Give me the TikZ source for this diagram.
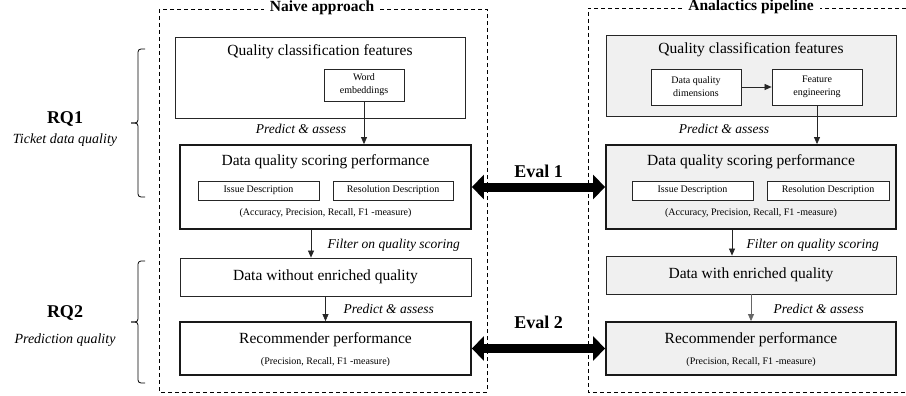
\documentclass[tikz,border=0pt]{standalone}
\usepackage{fontspec}
\setmainfont{Liberation Serif}
\usetikzlibrary{arrows.meta}

\begin{document}
\begin{tikzpicture}[x=1pt,y=-1pt,
  box/.style={draw=black!85, line width=0.8pt, inner sep=0pt},
  thickbox/.style={draw=black!90, line width=1.8pt, inner sep=0pt},
  shaded/.style={fill=black!6},
  small/.style={font=\fontsize{10}{13}\selectfont, align=center},
  big/.style={font=\fontsize{15.5}{18}\selectfont},
  note/.style={font=\fontsize{13.5}{16}\selectfont\itshape},
  rq/.style={font=\fontsize{18}{20}\selectfont\bfseries},
  bracket/.style={line width=0.8pt, rounded corners=3pt},
  flow/.style={-{Triangle[length=7pt,width=6pt]}, line width=0.7pt, black!85},
  evalarrow/.style={{Triangle[length=12pt,width=24pt]}-{Triangle[length=12pt,width=24pt]}, line width=9pt}]

\useasboundingbox (0,0) rectangle (906,396);

% containers
\draw[dashed, dash pattern=on 4pt off 3pt, line width=0.6pt] (159,9) rectangle (487,392);
\node[font=\fontsize{15.5}{18}\selectfont\bfseries, fill=white, inner sep=6pt] (naive) at (322,8) {Naive approach};
\draw[dashed, dash pattern=on 4pt off 3pt, line width=0.6pt] (906,8) -- (588,8) -- (588,392) -- (906,392);
\node[font=\fontsize{15.5}{18}\selectfont\bfseries, fill=white, inner sep=6pt] (pipe) at (751,7) {Analactics pipeline};

% research questions
\node[rq] (rq1) at (65,119) {RQ1};
\node[note, font=\fontsize{14}{16}\selectfont\itshape] (rq1t) at (65,140) {Ticket data quality};
\node[rq] (rq2) at (65,313) {RQ2};
\node[note, font=\fontsize{14}{16}\selectfont\itshape] (rq2t) at (65,340) {Prediction quality};
\draw[bracket] (145,49) -- (138,49) -- (138,123) -- (131,123);
\draw[bracket] (131,123) -- (138,123) -- (138,197) -- (145,197);
\draw[bracket] (145,261) -- (138,261) -- (138,322) -- (131,322);
\draw[bracket] (131,322) -- (138,322) -- (138,383) -- (145,383);

% naive approach
\node[box, minimum width=290pt, minimum height=81pt] (qcfL) at (320,77.5) {};
\node[big] (qcfLt) at (320,52) {Quality classification features};
\node[box, small, minimum width=80pt, minimum height=32pt] (weL) at (364,85) {Word\\embeddings};
\node[thickbox, minimum width=291pt, minimum height=84pt] (dqsL) at (325.5,187) {};
\node[big] (dqsLt) at (325.5,162) {Data quality scoring performance};
\node[box, small, minimum width=121pt, minimum height=19pt] (idL) at (258.5,190.5) {Issue Description};
\node[box, small, minimum width=120pt, minimum height=19pt] (rdL) at (393,190.5) {Resolution Description};
\node[small] (accL) at (325.5,213) {(Accuracy, Precision, Recall, F1 -measure)};
\node[box, big, minimum width=291pt, minimum height=38pt] (dweL) at (325.5,277) {Data without enriched quality};
\node[thickbox, minimum width=291pt, minimum height=53pt] (recL) at (325.5,348.5) {};
\node[big] (recLt) at (325.5,340) {Recommender performance};
\node[small] (recLs) at (325.5,362) {(Precision, Recall, F1 -measure)};

% analytics pipeline
\node[box, shaded, minimum width=290pt, minimum height=81pt] (qcfR) at (751,75.5) {};
\node[big] (qcfRt) at (751,50) {Quality classification features};
\node[box, fill=white, small, minimum width=90pt, minimum height=36pt] (dqdR) at (696,87) {Data quality\\dimensions};
\node[box, fill=white, small, minimum width=90pt, minimum height=36pt] (feR) at (817,87) {Feature\\engineering};
\node[thickbox, shaded, minimum width=290pt, minimum height=84pt] (dqsR) at (751,187) {};
\node[big] (dqsRt) at (751,162) {Data quality scoring performance};
\node[box, fill=white, small, minimum width=121pt, minimum height=19pt] (idR) at (692.5,190.5) {Issue Description};
\node[box, fill=white, small, minimum width=122pt, minimum height=19pt] (rdR) at (828,190.5) {Resolution Description};
\node[small] (accR) at (751,213) {(Accuracy, Precision, Recall, F1 -measure)};
\node[box, shaded, big, minimum width=290pt, minimum height=38pt] (dweR) at (751,275) {Data with enriched quality};
\node[thickbox, shaded, minimum width=290pt, minimum height=53pt] (recR) at (751,348.5) {};
\node[big] (recRt) at (751,340) {Recommender performance};
\node[small] (recRs) at (751,362) {(Precision, Recall, F1 -measure)};

% flows
\draw[flow] (weL.south) -- (weL.south |- dqsL.north);
\draw[flow] ([xshift=-14.5pt]dqsL.south) -- ([xshift=-14.5pt]dqsL.south |- dweL.north);
\draw[flow] (dweL.south) -- (recL.north);
\draw[flow] (dqdR.east) -- (feR.west);
\draw[flow] (feR.south) -- (feR.south |- dqsR.north);
\draw[flow] ([xshift=-19pt]dqsR.south) -- ([xshift=-19pt]dqsR.south |- dweR.north);
\draw[flow, black!60] (dweR.south) -- (recR.north);

\node[note] (paL1) at (301,129) {Predict \& assess};
\node[note] (paR1) at (724,129) {Predict \& assess};
\node[note, anchor=west] (fqL) at (324,245) {Filter on quality scoring};
\node[note, anchor=west] (fqR) at (743,245) {Filter on quality scoring};
\node[note, anchor=west] (paL2) at (340,309) {Predict \& assess};
\node[note, anchor=west] (paR2) at (770,309) {Predict \& assess};

% evaluations
\draw[evalarrow] (dqsL.east) -- (dqsR.west);
\node[rq] (ev1) at (538.5,171) {Eval 1};
\draw[evalarrow] (recL.east) -- (recR.west);
\node[rq] (ev2) at (538.5,322) {Eval 2};
\end{tikzpicture}
\end{document}
